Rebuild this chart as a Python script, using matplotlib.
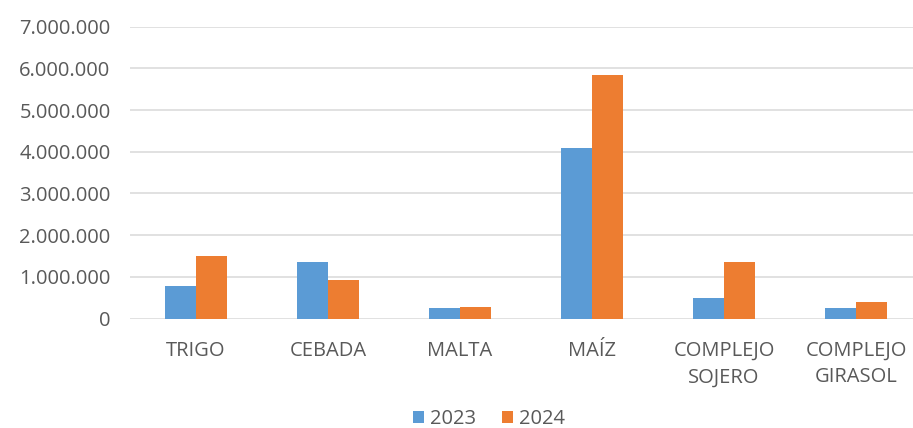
import matplotlib
matplotlib.use("Agg")
import matplotlib.pyplot as plt
import numpy as np
from matplotlib.ticker import FuncFormatter, MultipleLocator

categories = ["TRIGO", "CEBADA", "MALTA", "MAÍZ", "COMPLEJO\nSOJERO", "COMPLEJO\nGIRASOL"]
series_names = ["2023", "2024"]
values_2023 = [770000, 1360000, 240000, 4100000, 490000, 250000]
values_2024 = [1510000, 920000, 280000, 5830000, 1360000, 400000]

colors = ["#5B9BD5", "#ED7D31"]
text_color = "#595959"
grid_color = "#D9D9D9"

plt.rcParams['font.family'] = ['Open Sans', 'DejaVu Sans']

fig = plt.figure(figsize=(9.13, 4.28), dpi=100)
ax = fig.add_axes([130/913, (428-318.5)/428, (913-130)/913, (318.5-26.7)/428])

x = np.arange(len(categories))
w = 0.235
ax.bar(x - w/2, values_2023, width=w, color=colors[0], label=series_names[0], zorder=3)
ax.bar(x + w/2, values_2024, width=w, color=colors[1], label=series_names[1], zorder=3)

ax.set_xlim(-0.5, -0.5 + 783/132)
ax.set_ylim(0, 7000000)
ax.yaxis.set_major_locator(MultipleLocator(1000000))
ax.yaxis.set_major_formatter(FuncFormatter(lambda v, p: f"{int(round(v)):,}".replace(",", ".")))
ax.grid(axis='y', color=grid_color, linewidth=1.1, zorder=0)
ax.set_axisbelow(True)
for s in ax.spines.values():
    s.set_visible(False)

ax.set_xticks(x)
ax.set_xticklabels(categories, linespacing=1.45)
ax.tick_params(axis='both', length=0, colors=text_color, labelsize=14.5)
ax.tick_params(axis='y', pad=14)
ax.tick_params(axis='x', pad=16)

leg = fig.legend(loc='center', bbox_to_anchor=(489/913, 1 - 419/428), ncol=2, frameon=False,
                 fontsize=14.5, handlelength=0.55, handleheight=0.55, handletextpad=0.3,
                 columnspacing=1.3, labelcolor=text_color)

fig.savefig("out.png", dpi=100)
